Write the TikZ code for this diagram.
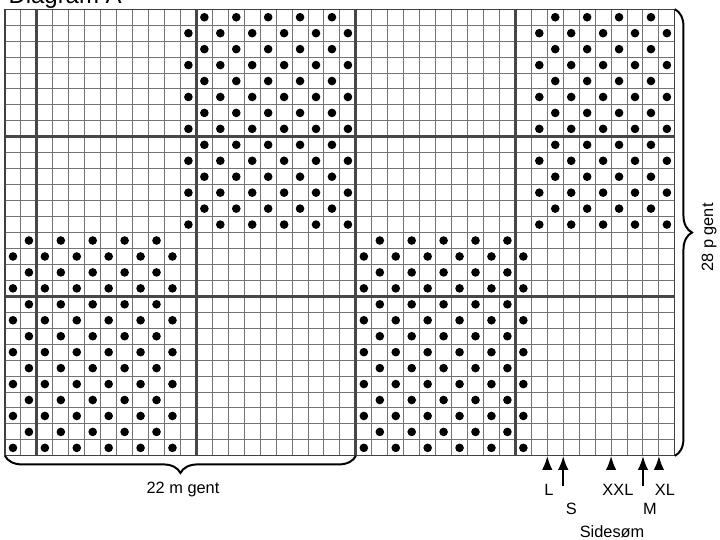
\documentclass[tikz,border=0pt]{standalone}
\usepackage{fontspec}
\setmainfont{Liberation Sans}
\usetikzlibrary{arrows.meta,decorations.pathreplacing,positioning}

\begin{document}
\begin{tikzpicture}[
    x=8pt, y=8pt,
    thingrid/.style={draw=black!55, line width=0.5pt},
    thickgrid/.style={draw=black!72, line width=1.4pt},
    stitch/.style={fill=black},
    gentbrace/.style={decorate, decoration={brace, amplitude=8.6pt}, line width=1pt},
    sizearrow/.style={-{Latex[length=7pt,width=5.2pt]}, line width=1pt},
    lbl/.style={font=\fontsize{8.2}{9}\selectfont, inner sep=0pt}
]
\useasboundingbox (-0.313,-5.27) rectangle (44.83,28.58);

\coordinate (sw) at (0,0);
\coordinate (se) at (42,0);
\coordinate (ne) at (42,28);
\coordinate (bm) at (22,0);

\foreach \c in {1,...,41} \draw[thingrid] (\c,0) -- (\c,28);
\foreach \r in {1,...,27} \draw[thingrid] (0,\r) -- (42,\r);
\foreach \c in {2,12,22,32} \draw[thickgrid] (\c,0) -- (\c,28);
\foreach \r in {10,20} \draw[thickgrid] (0,\r) -- (42,\r);
\draw[draw=black!75, line width=0.6pt] (sw) rectangle (ne);

\foreach \r in {1,3,...,13} {
    \foreach \c in {1,3,5,7,9,11,23,25,27,29,31,33}
        \fill[stitch] (\c-0.5,\r-0.5) circle (0.27);
    \foreach \c in {2,4,6,8,10,24,26,28,30,32}
        \fill[stitch] (\c-0.5,\r+0.5) circle (0.27);
}
\foreach \r in {15,17,...,27} {
    \foreach \c in {12,14,16,18,20,22,34,36,38,40,42}
        \fill[stitch] (\c-0.5,\r-0.5) circle (0.27);
    \foreach \c in {13,15,17,19,21,35,37,39,41}
        \fill[stitch] (\c-0.5,\r+0.5) circle (0.27);
}

\node[font=\fontsize{12}{14}\selectfont, anchor=base west, inner sep=0pt] (title) at (0.2,28.39) {Diagram A};

\draw[gentbrace] (ne) -- (se);
\draw[gentbrace] (bm) -- (sw);
\node[lbl, rotate=90] (rows) at (44.14,13.69) {28 p gent};
\node[lbl] (cols) at (11.16,-2.1) {22 m gent};

\foreach \name/\x/\len in {L/34/0.86, S/35/1.9, XXL/38/0.86, M/40/1.9, XL/41/0.86} {
    \coordinate (tip\name) at (\x,0);
    \coordinate (tail\name) at (\x,-\len);
    \draw[sizearrow] (tail\name) -- (tip\name);
}
\node[lbl] (L) at (34.1,-2.11) {L};
\node[lbl] (XXL) at (38.43,-2.11) {XXL};
\node[lbl] (XL) at (41.38,-2.11) {XL};
\node[lbl] (S) at (35.5,-3.3) {S};
\node[lbl] (M) at (40.44,-3.3) {M};
\node[lbl] (side) at (38.06,-4.74) {Sidesøm};
\end{tikzpicture}
\end{document}
